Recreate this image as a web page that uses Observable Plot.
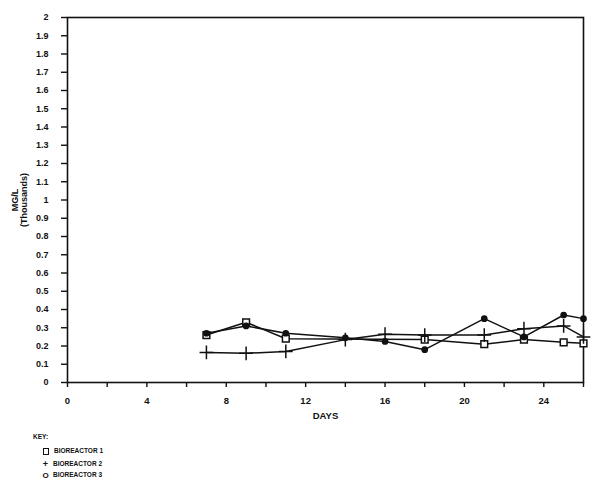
<!DOCTYPE html>
<html>
<head>
<meta charset="utf-8">
<script src="https://cdn.jsdelivr.net/npm/d3@7"></script>
<script src="https://cdn.jsdelivr.net/npm/@observablehq/plot@0.6"></script>
<style>
  body { margin: 0; background: #fff; font-family: "Liberation Sans", Arial, sans-serif; }
  #chart { width: 600px; }
  #key { position: relative; height: 65px; font-weight: bold; font-size: 6.5px; color: #111; }
  #key div { position: absolute; white-space: nowrap; }
  .sq { display: inline-block; width: 4px; height: 5px; border: 1.4px solid #111; vertical-align: middle; margin-right: 5px; }
  .sym { display: inline-block; width: 7px; font-size: 9px; margin-right: 4px; text-align: center; vertical-align: middle; }
</style>
</head>
<body>
<div id="chart"></div>
<div id="key">
  <div style="left:33px; top:8px;">KEY:</div>
  <div style="left:43px; top:22px;"><span class="sq"></span>BIOREACTOR 1</div>
  <div style="left:42px; top:34px;"><span class="sym">+</span>BIOREACTOR 2</div>
  <div style="left:42px; top:46px;"><span class="sym" style="font-size:8px">O</span>BIOREACTOR 3</div>
</div>
<script>
const days1 = [7, 9, 11, 18, 21, 23, 25, 26];
const bio1 = [0.26, 0.33, 0.24, 0.235, 0.21, 0.235, 0.22, 0.215];
const days2 = [7, 9, 11, 14, 16, 18, 21, 23, 25, 26];
const bio2 = [0.165, 0.16, 0.17, 0.235, 0.265, 0.26, 0.26, 0.295, 0.31, 0.25];
const days3 = [7, 9, 11, 14, 16, 18, 21, 23, 25, 26];
const bio3 = [0.27, 0.31, 0.27, 0.245, 0.225, 0.18, 0.35, 0.25, 0.37, 0.35];
const xTicks = d3.range(0, 27, 2);
const yTicks = d3.range(0, 21).map(i => i / 10);

const s1 = days1.map((d, i) => ({day: d, v: bio1[i]}));
const s2 = days2.map((d, i) => ({day: d, v: bio2[i]}));
const s3 = days3.map((d, i) => ({day: d, v: bio3[i]}));

const plot = Plot.plot({
  width: 600,
  height: 425,
  marginTop: 17,
  marginBottom: 43,
  marginLeft: 67,
  marginRight: 17,
  style: {fontFamily: "Liberation Sans, Arial, sans-serif", fontWeight: "bold", fontSize: "8.5px", color: "#111"},
  x: {domain: [0, 26]},
  y: {domain: [0, 2]},
  marks: [
    Plot.frame({stroke: "#111", strokeWidth: 1.6}),
    Plot.axisX({ticks: xTicks, tickSize: 5, tickPadding: 10, strokeWidth: 1.4,
      tickFormat: d => d % 4 === 0 ? String(d) : "",
      label: "DAYS", labelAnchor: "center", labelArrow: "none", labelOffset: 36, fontSize: 9.5}),
    Plot.axisY({ticks: yTicks, tickSize: 6, tickPadding: 13, strokeWidth: 1.4,
      tickFormat: d => String(Math.round(d * 10) / 10),
      label: "MG/L\n(Thousands)", labelAnchor: "center", labelArrow: "none", labelOffset: 56, fontSize: 9}),
    Plot.line(s1, {x: "day", y: "v", stroke: "#111", strokeWidth: 1.5}),
    Plot.line(s2, {x: "day", y: "v", stroke: "#111", strokeWidth: 1.5}),
    Plot.line(s3, {x: "day", y: "v", stroke: "#111", strokeWidth: 1.5}),
    Plot.dot(s1, {x: "day", y: "v", symbol: "square", r: 3.8, fill: "white", stroke: "#111", strokeWidth: 1.5}),
    Plot.dot(s2, {x: "day", y: "v", symbol: "plus", r: 4.5, stroke: "#111", strokeWidth: 1.5}),
    Plot.dot(s3, {x: "day", y: "v", symbol: "circle", r: 2.6, fill: "#111", stroke: "#111"})
  ]
});
document.getElementById("chart").appendChild(plot);
</script>
</body>
</html>
